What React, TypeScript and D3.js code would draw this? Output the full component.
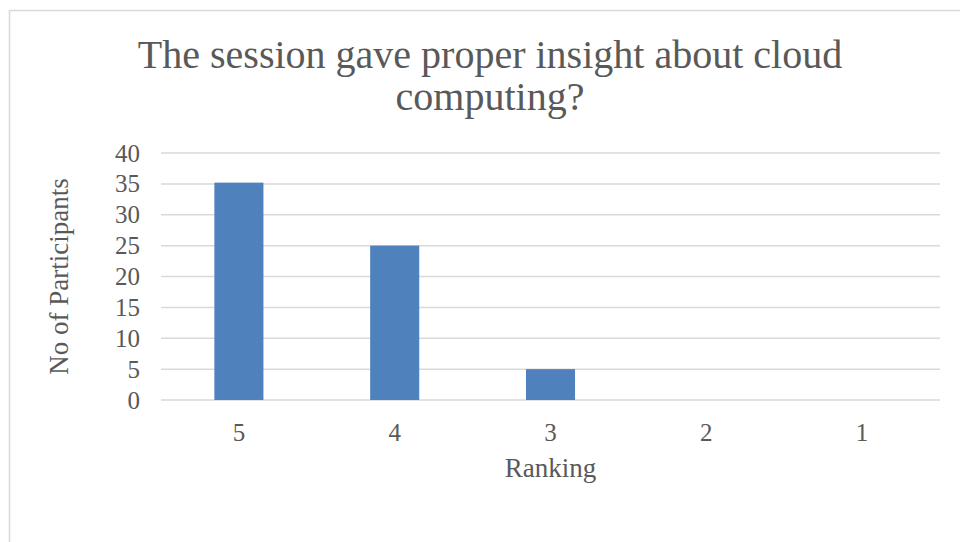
import * as d3 from 'd3';
import {useEffect, useRef} from "react";
import * as React from "react";

const rankings: string[] = ["5", "4", "3", "2", "1"];
const participants: number[] = [35.2, 25, 5, 0, 0];
const yTicks: number[] = [0, 5, 10, 15, 20, 25, 30, 35, 40];
const titleLines: string[] = ["The session gave proper insight about cloud", "computing?"];
const xTitle = "Ranking";
const yTitle = "No of Participants";

const W = 960;
const H = 542;
const FONT = "'Liberation Serif', 'DejaVu Serif', serif";
const TEXT = "#595959";
const GRID = "#d9d9d9";
const BAR = "#4f81bd";

const App: React.FC = () => {
    const svgRef = useRef<SVGSVGElement | null>(null);

    useEffect(() => {
        const margin = { top: 153, right: 20, bottom: 142, left: 161 };
        const width = 940 - margin.left;
        const height = 400 - margin.top;

        const root = d3.select(svgRef.current)
            .attr("width", W)
            .attr("height", H)
            .html("");

        // chart frame, runs off the right and bottom of the picture
        root.append("rect")
            .attr("x", 9.5)
            .attr("y", 10.5)
            .attr("width", 980)
            .attr("height", 560)
            .attr("fill", "white")
            .attr("stroke", GRID)
            .attr("stroke-width", 1.5);

        root.append("text")
            .attr("x", 490)
            .attr("y", 0)
            .attr("text-anchor", "middle")
            .attr("font-family", FONT)
            .attr("font-size", 40)
            .attr("fill", TEXT)
            .selectAll("tspan")
            .data(titleLines)
            .enter()
            .append("tspan")
            .attr("x", 490)
            .attr("y", (_, i) => 68 + i * 42)
            .text(d => d);

        const svg = root.append("g")
            .attr("transform", `translate(${margin.left},${margin.top})`);

        const xScale = d3.scaleBand()
            .domain(rankings)
            .range([0, width])
            .padding(0);

        const yScale = d3.scaleLinear()
            .domain([0, 40])
            .range([height, 0]);

        svg.selectAll(".grid")
            .data(yTicks)
            .enter()
            .append("line")
            .attr("class", "grid")
            .attr("x1", 0)
            .attr("x2", width)
            .attr("y1", d => yScale(d))
            .attr("y2", d => yScale(d))
            .attr("stroke", GRID)
            .attr("stroke-width", 1.5);

        const barW = xScale.bandwidth() * 0.315;

        svg.selectAll(".bar")
            .data(participants)
            .enter()
            .append("rect")
            .attr("class", "bar")
            .attr("x", (_, i) => xScale(rankings[i])! + (xScale.bandwidth() - barW) / 2)
            .attr("y", d => yScale(d))
            .attr("width", barW)
            .attr("height", d => height - yScale(d))
            .attr("fill", BAR);

        const yAxis = svg.append("g")
            .call(d3.axisLeft(yScale).tickValues(yTicks).tickSize(0).tickPadding(21));
        yAxis.select(".domain").remove();
        yAxis.selectAll("text")
            .attr("font-family", FONT)
            .attr("font-size", 25)
            .attr("fill", TEXT);

        const xAxis = svg.append("g")
            .attr("transform", `translate(0, ${height})`)
            .call(d3.axisBottom(xScale).tickSize(0).tickPadding(23));
        xAxis.select(".domain").remove();
        xAxis.selectAll("text")
            .attr("font-family", FONT)
            .attr("font-size", 25)
            .attr("fill", TEXT);

        svg.append("text")
            .attr("x", width / 2)
            .attr("y", height + 77)
            .attr("text-anchor", "middle")
            .attr("font-family", FONT)
            .attr("font-size", 27)
            .attr("fill", TEXT)
            .text(xTitle);

        svg.append("text")
            .attr("transform", `translate(${68 - margin.left},${height / 2}) rotate(-90)`)
            .attr("text-anchor", "middle")
            .attr("font-family", FONT)
            .attr("font-size", 27)
            .attr("fill", TEXT)
            .text(yTitle);
    }, []);

    return <svg ref={svgRef} style={{ position: "absolute", left: 0, top: 0 }}></svg>;
};

export default App;
